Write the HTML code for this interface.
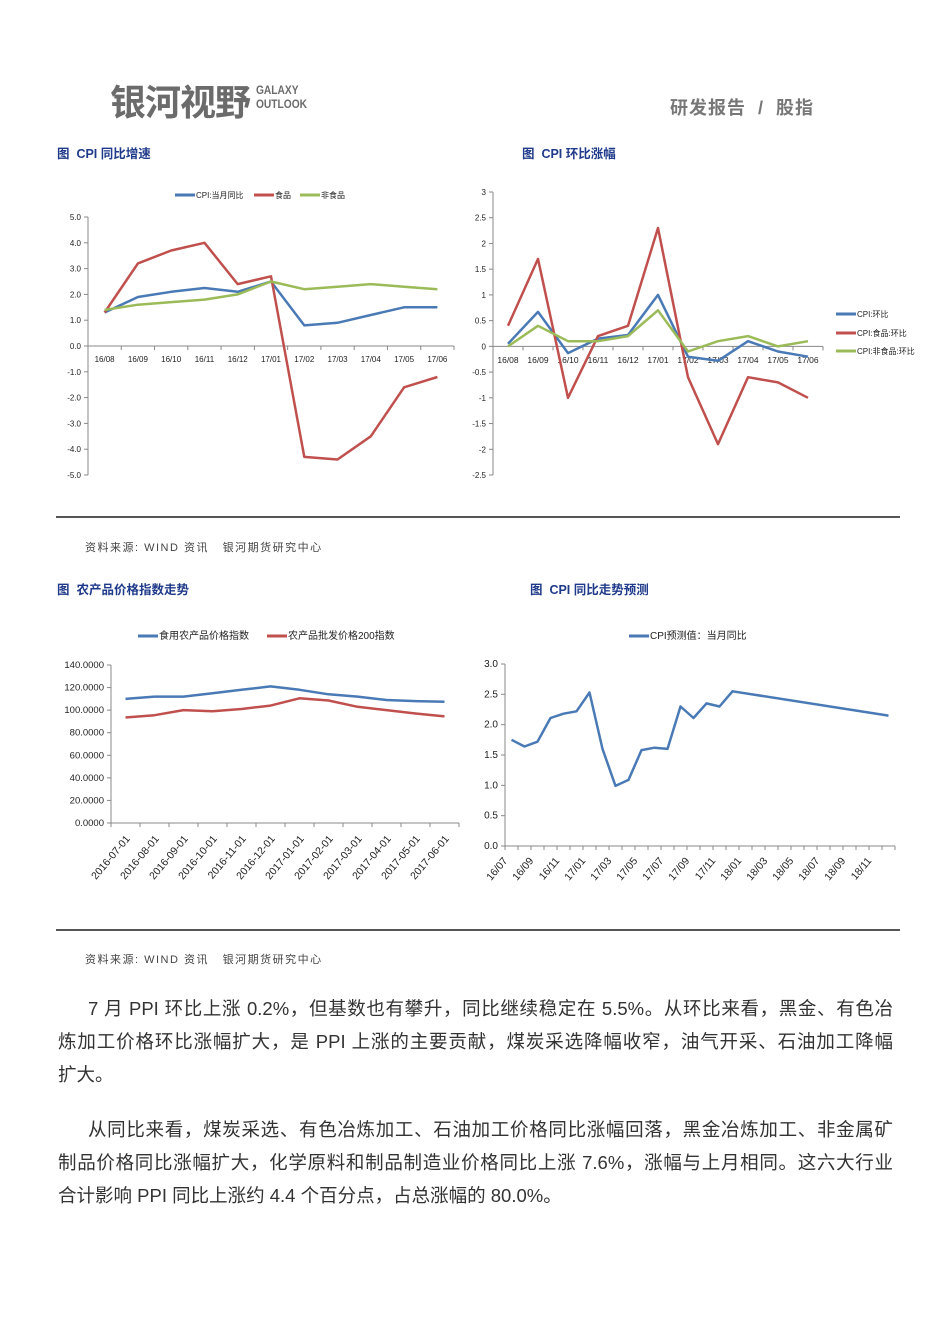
<!DOCTYPE html>
<html><head><meta charset="utf-8">
<style>
body{margin:0;background:#fff;}
#page{position:relative;width:950px;height:1344px;overflow:hidden;font-family:"Liberation Sans","Noto Sans CJK SC",sans-serif;}
.abs{position:absolute;white-space:nowrap;}
.title{font-size:12.5px;font-weight:bold;color:#1f3a8a;}
.src{font-size:11px;color:#444;letter-spacing:1.5px;}
.para{position:absolute;left:58px;width:835px;font-size:18.5px;color:#333;}
.para div{height:33px;line-height:33px;text-align:justify;text-align-last:justify;white-space:nowrap;}
.para div.last{text-align-last:left;}
</style></head><body>
<div id="page">
<div class="abs" style="left:110px;top:74px;font-size:36px;font-weight:bold;color:#6b6b6b;letter-spacing:-1px;">银河视野</div>
<div class="abs" style="left:256px;top:83px;font-size:12px;line-height:14px;font-weight:bold;color:#6b6b6b;transform:scaleX(0.85);transform-origin:left;">GALAXY<br>OUTLOOK</div>
<div class="abs" style="left:670px;top:94px;font-size:18px;font-weight:bold;color:#777;letter-spacing:1px;">研发报告 &nbsp;/ &nbsp;股指</div>

<div class="abs title" style="left:57px;top:143px;">图 &nbsp;CPI 同比增速</div>
<div class="abs title" style="left:522px;top:143px;">图 &nbsp;CPI 环比涨幅</div>
<div class="abs title" style="left:57px;top:579px;">图 &nbsp;农产品价格指数走势</div>
<div class="abs title" style="left:530px;top:579px;">图 &nbsp;CPI 同比走势预测</div>

<div class="abs" style="left:56px;top:516px;width:844px;height:2px;background:#555;"></div>
<div class="abs" style="left:56px;top:929px;width:844px;height:2px;background:#555;"></div>
<div class="abs src" style="left:85px;top:539px;">资料来源: WIND 资讯 &nbsp; 银河期货研究中心</div>
<div class="abs src" style="left:85px;top:951px;">资料来源: WIND 资讯 &nbsp; 银河期货研究中心</div>

<div class="para" style="top:992px;">
<div style="padding-left:30px;">7 月 PPI 环比上涨 0.2%，但基数也有攀升，同比继续稳定在 5.5%。从环比来看，黑金、有色冶</div>
<div>炼加工价格环比涨幅扩大，是 PPI 上涨的主要贡献，煤炭采选降幅收窄，油气开采、石油加工降幅</div>
<div class="last">扩大。</div>
</div>
<div class="para" style="top:1113px;">
<div style="padding-left:30px;">从同比来看，煤炭采选、有色冶炼加工、石油加工价格同比涨幅回落，黑金冶炼加工、非金属矿</div>
<div>制品价格同比涨幅扩大，化学原料和制品制造业价格同比上涨 7.6%，涨幅与上月相同。这六大行业</div>
<div class="last">合计影响 PPI 同比上涨约 4.4 个百分点，占总涨幅的 80.0%。</div>
</div>

<svg id="charts" width="950" height="1344" style="position:absolute;left:0;top:0;" font-family="Liberation Sans, Noto Sans CJK SC, sans-serif"></svg>
</div>
<script>
// Chart 1: CPI YoY
const c1Cats = ['16/08','16/09','16/10','16/11','16/12','17/01','17/02','17/03','17/04','17/05','17/06'];
const c1Cpi = [1.3,1.9,2.1,2.25,2.1,2.5,0.8,0.9,1.2,1.5,1.5];
const c1Food = [1.3,3.2,3.7,4.0,2.4,2.7,-4.3,-4.4,-3.5,-1.6,-1.2];
const c1NonFood = [1.4,1.6,1.7,1.8,2.0,2.5,2.2,2.3,2.4,2.3,2.2];
const c1Ticks = [5,4,3,2,1,0,-1,-2,-3,-4,-5];
const c1TickLabels = ['5.0','4.0','3.0','2.0','1.0','0.0','-1.0','-2.0','-3.0','-4.0','-5.0'];
// Chart 2: CPI MoM
const c2Cats = ['16/08','16/09','16/10','16/11','16/12','17/01','17/02','17/03','17/04','17/05','17/06'];
const c2Cpi = [0.05,0.67,-0.13,0.15,0.22,1.0,-0.2,-0.28,0.1,-0.1,-0.2];
const c2Food = [0.4,1.7,-1.0,0.2,0.4,2.3,-0.6,-1.9,-0.6,-0.7,-1.0];
const c2NonFood = [0,0.4,0.1,0.1,0.2,0.7,-0.1,0.1,0.2,0,0.1];
const c2Ticks = [3,2.5,2,1.5,1,0.5,0,-0.5,-1,-1.5,-2,-2.5];
const c2TickLabels = ['3','2.5','2','1.5','1','0.5','0','-0.5','-1','-1.5','-2','-2.5'];
// Chart 3: agri price index
const c3Cats = ['2016-07-01','2016-08-01','2016-09-01','2016-10-01','2016-11-01','2016-12-01','2017-01-01','2017-02-01','2017-03-01','2017-04-01','2017-05-01','2017-06-01'];
const c3Edible = [110,112,112,115,118,121,118,114,112,109,108,107.5];
const c3Wholesale = [93.5,95.5,100,99,101,104,110.5,108.5,103,100,97,94.5];
const c3Ticks = [0,20,40,60,80,100,120,140];
const c3TickLabels = ['0.0000','20.0000','40.0000','60.0000','80.0000','100.0000','120.0000','140.0000'];
// Chart 4: CPI forecast
const c4Cats = ['16/07','16/08','16/09','16/10','16/11','16/12','17/01','17/02','17/03','17/04','17/05','17/06','17/07','17/08','17/09','17/10','17/11','17/12','18/01','18/02','18/03','18/04','18/05','18/06','18/07','18/08','18/09','18/10','18/11','18/12'];
const c4Values = [1.75,1.64,1.72,2.11,2.18,2.22,2.53,1.6,0.99,1.09,1.58,1.62,1.6,2.3,2.11,2.35,2.3,2.55,null,null,null,null,null,null,null,null,null,null,null,2.15];
const c4Ticks = [0,0.5,1,1.5,2,2.5,3];
const c4TickLabels = ['0.0','0.5','1.0','1.5','2.0','2.5','3.0'];

const svg = document.getElementById('charts');
const NS = 'http://www.w3.org/2000/svg';
function mk(tag, attrs, parent){const e=document.createElementNS(NS,tag);for(const k in attrs)e.setAttribute(k,attrs[k]);(parent||svg).appendChild(e);return e;}
function txt(x,y,s,size,anchor,parent,extra){const t=mk('text',Object.assign({x:x,y:y,'font-size':size,'text-anchor':anchor,fill:'#222'},extra||{}),parent);t.textContent=s;return t;}

function chart(cfg){
  const g=mk('g',{});
  
  
  const n=cfg.cats.length, cw=(cfg.x1-cfg.x0)/n;
  const xf=i=>cfg.x0+cw*(i+0.5);
  const yf=v=>cfg.yBot+(v-cfg.yMin)/(cfg.yMax-cfg.yMin)*(cfg.yTop-cfg.yBot);
  const base=yf(cfg.baseVal);
  const ax=mk('line',{x1:cfg.x0,y1:yf(cfg.yMax),x2:cfg.x0,y2:yf(cfg.yMin),stroke:'#888','stroke-width':1},g);
  
  
  cfg.ticks.forEach((v,i)=>{
    const y=yf(v);
    mk('line',{x1:cfg.x0-4,y1:y,x2:cfg.x0,y2:y,stroke:'#888'},g);
    const t=txt(cfg.x0-7,y+3,cfg.tickLabels[i],cfg.tfs,'end',g);
    
    
  });
  const xa=mk('line',{x1:cfg.x0,y1:base,x2:cfg.x1,y2:base,stroke:'#888'},g);
  
  
  for(let i=0;i<=n;i++){const x=cfg.x0+cw*i;mk('line',{x1:x,y1:base,x2:x,y2:base+4,stroke:'#888'},g);}
  cfg.cats.forEach((c,i)=>{
    if(cfg.labelEvery && i%cfg.labelEvery!==0) return;
    let t;
    if(cfg.rotate){
      const x=cfg.labelEvery?cfg.x0+cw*i+3:xf(i)+5;
      t=txt(x,cfg.labelY,c,cfg.xfs,'end',g,{transform:'rotate(-50 '+x+' '+cfg.labelY+')'});
    } else t=txt(xf(i),cfg.labelY,c,cfg.xfs,'middle',g);
    
    
  });
  cfg.series.forEach(s=>{
    let d='';s.data.forEach((v,i)=>{if(v===null)return;d+=(d?'L':'M')+xf(i).toFixed(1)+' '+yf(v).toFixed(1);});
    const p=mk('path',{d:d,fill:'none',stroke:s.color,'stroke-width':cfg.sw,'stroke-linejoin':'round'},g);
    
    
  });
}
const BLUE='#4a7ab5',RED='#c0504d',GREEN='#9bbb59';
chart({name:'cpi-yoy-chart',cats:c1Cats,x0:88,x1:454,yTop:217,yBot:475,yMax:5,yMin:-5,baseVal:0,ticks:c1Ticks,tickLabels:c1TickLabels,tfs:8,xfs:8,labelY:362,sw:2.5,
 series:[{name:'line-cpi-yoy',data:c1Cpi,color:BLUE},{name:'line-food-yoy',data:c1Food,color:RED},{name:'line-nonfood-yoy',data:c1NonFood,color:GREEN}]});
chart({name:'cpi-mom-chart',cats:c2Cats,x0:493,x1:823,yTop:192,yBot:475,yMax:3,yMin:-2.5,baseVal:0,ticks:c2Ticks,tickLabels:c2TickLabels,tfs:8,xfs:8.5,labelY:363,sw:2.5,
 series:[{name:'line-cpi-mom',data:c2Cpi,color:BLUE},{name:'line-food-mom',data:c2Food,color:RED},{name:'line-nonfood-mom',data:c2NonFood,color:GREEN}]});
chart({name:'agri-index-chart',cats:c3Cats,x0:111,x1:459,yTop:665,yBot:823,yMax:140,yMin:0,baseVal:0,ticks:c3Ticks,tickLabels:c3TickLabels,tfs:9.5,xfs:10.5,labelY:839,rotate:true,sw:2.5,
 series:[{name:'line-edible-agri-index',data:c3Edible,color:BLUE},{name:'line-wholesale-200-index',data:c3Wholesale,color:RED}]});
chart({name:'cpi-forecast-chart',cats:c4Cats,x0:505,x1:895,yTop:664,yBot:846,yMax:3,yMin:0,baseVal:0,ticks:c4Ticks,tickLabels:c4TickLabels,tfs:10,xfs:10.5,labelY:861,rotate:true,labelEvery:2,sw:2.5,
 series:[{name:'line-cpi-forecast',data:c4Values,color:BLUE}]});

function legend(x,y,color,label,size,name){
  const g=mk('g',{});
  
  
  mk('line',{x1:x,y1:y,x2:x+20,y2:y,stroke:color,'stroke-width':3},g);
  txt(x+21,y+3,label,size,'start',g);
}
legend(175,195,BLUE,'CPI:当月同比',8,'legend-cpi-yoy');
legend(254,195,RED,'食品',8,'legend-food-yoy');
legend(300,195,GREEN,'非食品',8,'legend-nonfood-yoy');
legend(836,314,BLUE,'CPI:环比',8,'legend-cpi-mom');
legend(836,333,RED,'CPI:食品:环比',8,'legend-food-mom');
legend(836,351,GREEN,'CPI:非食品:环比',8,'legend-nonfood-mom');
legend(138,636,BLUE,'食用农产品价格指数',10,'legend-edible-agri');
legend(267,636,RED,'农产品批发价格200指数',10,'legend-wholesale-200');
legend(629,636,BLUE,'CPI预测值：当月同比',10,'legend-cpi-forecast');
</script>
</body></html>
